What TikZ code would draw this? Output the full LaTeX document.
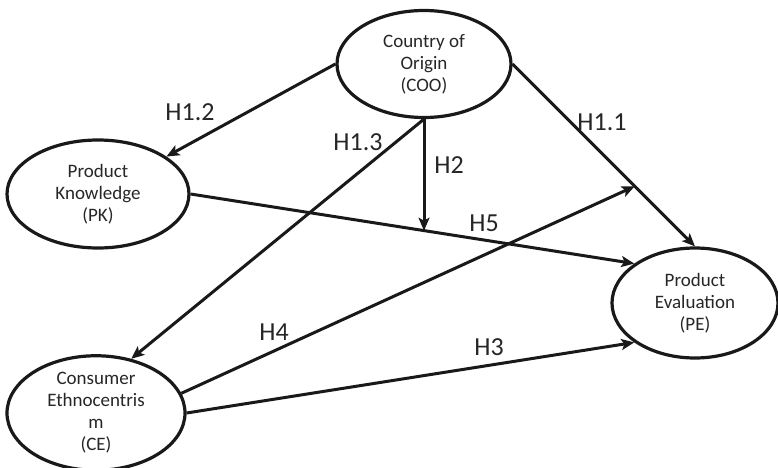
\documentclass[tikz,border=0pt]{standalone}
\usepackage{fontspec}
\setmainfont{Carlito}
\usetikzlibrary{shapes.geometric,arrows.meta}
\begin{document}
\begin{tikzpicture}[x=0.5pt,y=-0.5pt,
  latent/.style={ellipse,draw=black!90,line width=1.6pt,inner sep=0pt,align=center,
    font=\fontsize{9.5pt}{11pt}\selectfont,text=black!85},
  conn/.style={draw=black!90,line width=1.5pt,-{Stealth[length=6.5pt,width=5.5pt,inset=1.5pt]}},
  hlab/.style={font=\fontsize{13pt}{15pt}\selectfont,text=black!85,inner sep=0pt}]
\useasboundingbox (0,0) rectangle (778,467);
\node[latent,minimum width=87pt,minimum height=53.5pt] (coo) at (424,64) {Country of\\Origin\\(COO)};
\node[latent,minimum width=91pt,minimum height=54pt] (pk) at (98,194) {Product\\Knowledge\\(PK)};
\node[latent,minimum width=89pt,minimum height=53pt] (ce) at (96,413) {Consumer\\Ethnocentris\\m\\(CE)};
\node[latent,minimum width=83pt,minimum height=55pt] (pe) at (695,303) {Product\\Evaluation\\(PE)};

\draw[conn] (coo.west) -- (pk);
\draw[conn] (coo.east) -- coordinate[pos=0.67] (m11) (pe.north);
\draw[conn] (coo.south) -- (ce.57);
\draw[conn] (pk.east) -- coordinate[pos=0.527] (m5) (pe.147);
\draw[conn] (coo.south) -- (coo.south |- m5);
\draw[conn] (ce.east) -- (pe.213);
\draw[conn] (ce.13) -- (m11);

\node[hlab] (l12) at (190,112) {H1.2};
\node[hlab] (l13) at (358,142) {H1.3};
\node[hlab] (l11) at (602,122) {H1.1};
\node[hlab] (l2) at (449,165) {H2};
\node[hlab] (l5) at (484,223) {H5};
\node[hlab] (l4) at (274,332) {H4};
\node[hlab] (l3) at (489,347) {H3};
\end{tikzpicture}
\end{document}
